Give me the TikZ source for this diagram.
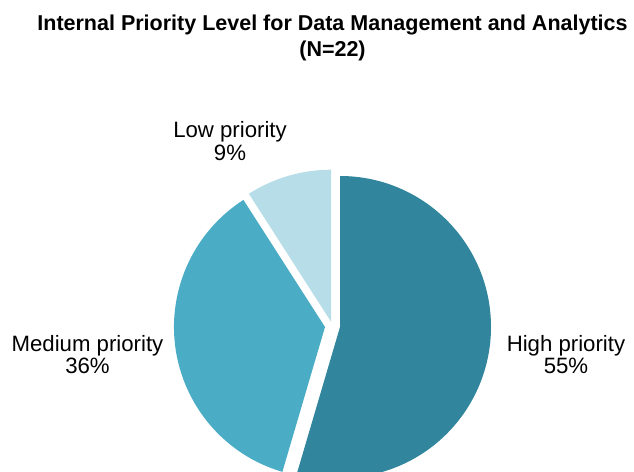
\documentclass[tikz,border=0pt]{standalone}
\usepackage{fontspec}
\setmainfont{Liberation Sans}
\definecolor{highc}{HTML}{31859C}
\definecolor{medc}{HTML}{4BACC6}
\definecolor{lowc}{HTML}{B7DEE8}
\begin{document}
\begin{tikzpicture}[x=1pt,y=1pt,
  lbl/.style={align=center,inner sep=0pt,font=\fontsize{22.2}{22.5}\selectfont},
  ttl/.style={align=center,inner sep=0pt,font=\bfseries\fontsize{21.5}{26}\selectfont}]
\useasboundingbox (0,0) rectangle (634,471);
\clip (0,0) rectangle (634,471);
% slices
\coordinate (ch) at (340,144);
\coordinate (cm) at (325,144);
\coordinate (cl) at (331,149.3);
\fill[highc] (ch) -- ++(90:151) arc[start angle=90,end angle=-106.4,radius=151] -- cycle;
\fill[medc] (cm) -- ++(-106.4:151) arc[start angle=-106.4,end angle=-237.3,radius=151] -- cycle;
\fill[lowc] (cl) -- ++(-237.3:152) arc[start angle=-237.3,end angle=-270,radius=152] -- cycle;
% texts
\node[ttl] (title) at (332.5,433.5) {Internal Priority Level for Data Management and Analytics\\(N=22)};
\node[lbl] (low) at (230,330) {Low priority\\9\%};
\node[lbl] (med) at (87.5,116.5) {Medium priority\\36\%};
\node[lbl] (high) at (566,116.5) {High priority\\55\%};
\end{tikzpicture}
\end{document}
